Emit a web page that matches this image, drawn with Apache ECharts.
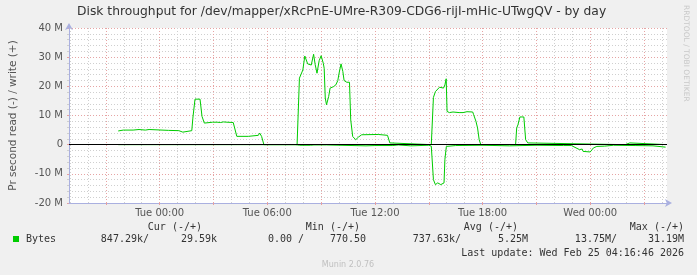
<!DOCTYPE html>
<html><head><meta charset="utf-8">
<script src="https://cdn.jsdelivr.net/npm/echarts@6/dist/echarts.min.js"></script>
<style>html,body{margin:0;padding:0;background:#f0f0f0;}#c{width:697px;height:275px;}</style>
</head><body><div id="c"></div>
<script>
const titleText = 'Disk throughput for /dev/mapper/xRcPnE-UMre-R309-CDG6-rijI-mHic-UTwgQV - by day';
const yAxisName = 'Pr second read (-) / write (+)';
const yMin = -20, yMax = 40, yStep = 10; // in M
const xLabelHours = [0, 6, 12, 18, 24];
const xLabelTexts = ['Tue 00:00', 'Tue 06:00', 'Tue 12:00', 'Tue 18:00', 'Wed 00:00'];
const xStart = -5.054, xEnd = 28.279; // hours relative to Tue 00:00
// write (+), M bytes per second
const writeHours = [-2.31,-2.03,-1.48,-1.40,-1.15,-1.10,-0.80,-0.76,-0.59,-0.55,0.50,1.07,1.09,1.29,1.35,1.79,1.85,1.97,2.25,2.36,2.49,2.60,2.95,3.05,3.20,3.40,3.55,3.75,4.10,4.20,4.30,4.94,4.95,5.50,5.57,5.68,5.81,7.66,7.79,7.90,7.98,8.09,8.17,8.25,8.45,8.58,8.67,8.77,8.89,9.00,9.12,9.17,9.23,9.30,9.42,9.50,9.69,9.82,9.93,10.00,10.11,10.21,10.28,10.43,10.58,10.65,10.76,10.93,11.08,11.17,11.26,12.18,12.26,12.70,12.83,12.92,15.14,15.26,15.37,15.47,15.60,15.82,15.90,15.97,16.02,16.15,16.35,16.69,16.80,16.91,17.13,17.45,17.50,17.63,17.72,17.81,17.90,19.84,19.90,19.97,20.08,20.30,20.40,20.52,20.62,25.94,26.03,26.21,26.27,28.20];
const writeValues = [4.7,5.0,5.0,5.2,5.2,5.0,5.0,5.2,5.2,5.0,4.9,4.8,4.3,4.3,4.8,4.8,9.1,15.6,15.6,9.7,7.4,7.7,7.7,7.9,7.7,7.6,7.8,7.7,7.6,7.6,2.85,2.85,3.2,3.2,4.0,2.85,0,0,22.8,23.2,25.6,30.4,30.8,27.7,27.3,31.0,27.4,24.5,28.8,30.5,27.9,26.2,16.0,13.7,16.5,19.4,19.9,20.5,22.0,24.5,27.7,25.1,22.0,21.4,21.4,8.5,2.8,1.7,2.6,3.1,3.4,3.5,3.2,3.2,0.6,0,0,16.2,18.2,18.8,19.7,19.4,20.5,22.6,11.4,11.0,11.2,11.0,11.4,11.0,11.3,11.2,10.3,8.0,5.7,1.7,0,0,5.7,6.8,9.5,9.5,1.7,0.6,0,0,0.6,0.6,0,0.03];
// read (-), M bytes per second
const readHours = [-2.31,7.60,7.80,8.40,8.50,8.60,9.30,9.40,11.50,11.60,12.00,13.00,13.30,14.00,15.00,15.14,15.26,15.37,15.50,15.67,15.85,15.90,15.98,16.50,18.00,19.50,21.00,22.50,22.95,23.40,23.55,23.60,24.00,24.18,24.37,24.80,25.30,26.50,27.50,28.20];
const readValues = [0,0,-0.2,-0.2,-0.5,-0.1,-0.1,-0.4,-0.4,-0.1,-0.3,-0.3,-0.1,-0.4,-0.2,-0.5,-12.0,-13.7,-13.1,-13.7,-13.1,-5.0,-0.6,-0.3,-0.2,-0.4,-0.2,-0.3,-0.3,-1.7,-1.5,-2.3,-2.5,-1.1,-0.6,-0.5,-0.2,-0.3,-0.4,-0.85];
const legendHeaders = ['Cur (-/+)', 'Min (-/+)', 'Avg (-/+)', 'Max (-/+)'];
const legendName = 'Bytes';
const legendValues = ['847.29k/', '29.59k', '0.00 /', '770.50', '737.63k/', '5.25M', '13.75M/', '31.19M'];
const lastUpdate = 'Last update: Wed Feb 25 04:16:46 2026';
const footerText = 'Munin 2.0.76';
const watermarkText = 'RRDTOOL / TOBI OETIKER';

const GREEN = '#00cc00';
const hourTicks = [];
for (let h = Math.ceil(xStart); h <= xEnd; h++) hourTicks.push(h);
const majorTicks = hourTicks.filter(h => ((h % 3) + 3) % 3 === 0);

const chart = echarts.init(document.getElementById('c'), null, {renderer: 'canvas'});
const monoFont = '"DejaVu Sans Mono", monospace';
const sansFont = '"DejaVu Sans", sans-serif';
const headerRight = [202, 360, 518, 684];
const valueRight = [149, 217, 304, 366, 461, 528, 617, 684];
const graphics = [
  {type: 'text', left: 77, top: 6, style: {text: titleText, font: '12.3px ' + sansFont, fill: '#333'}},
  {type: 'text', x: 682, y: 5, rotation: -Math.PI / 2, style: {text: watermarkText, font: '7.5px ' + sansFont, fill: '#c8c8c8', textAlign: 'left', textVerticalAlign: 'bottom'}},
  {type: 'rect', shape: {x: 13, y: 236, width: 6, height: 6}, style: {fill: GREEN}},
  {type: 'text', x: 26, y: 239.5, style: {text: legendName, font: '10px ' + monoFont, fill: '#333', textVerticalAlign: 'middle'}},
  {type: 'text', x: 684, y: 253, style: {text: lastUpdate, font: '10px ' + monoFont, fill: '#333', textAlign: 'right', textVerticalAlign: 'middle'}},
  {type: 'text', x: 348, y: 265, style: {text: footerText, font: '8px ' + sansFont, fill: '#c0c0c0', textAlign: 'center', textVerticalAlign: 'middle'}}
];
legendHeaders.forEach((t, i) => graphics.push({type: 'text', x: headerRight[i], y: 227, style: {text: t, font: '10px ' + monoFont, fill: '#333', textAlign: 'right', textVerticalAlign: 'middle'}}));
legendValues.forEach((t, i) => graphics.push({type: 'text', x: valueRight[i], y: 239.5, style: {text: t, font: '10px ' + monoFont, fill: '#333', textAlign: 'right', textVerticalAlign: 'middle'}}));

chart.setOption({
  animation: false,
  backgroundColor: '#f0f0f0',
  grid: {left: 66, right: 30, top: 28, bottom: 72, show: true, backgroundColor: '#ffffff', borderWidth: 0},
  xAxis: [
    {
      type: 'value', min: xStart, max: xEnd, position: 'bottom', z: 3,
      axisLine: {show: true, onZero: false, lineStyle: {color: '#aab0e0', width: 1}, symbol: ['none', 'arrow'], symbolSize: [6, 7], symbolOffset: [0, 5]},
      axisTick: {show: true, customValues: majorTicks, length: 2, lineStyle: {color: '#e8a0a0'}},
      axisLabel: {show: true, customValues: xLabelHours, margin: 5, fontFamily: sansFont, fontSize: 10, color: '#555',
        formatter: v => { const i = xLabelHours.indexOf(Math.round(v)); return i >= 0 ? xLabelTexts[i] : ''; }},
      splitLine: {show: true, lineStyle: {color: '#e6a4a4', type: [1, 2], width: 1}}
    },
    {
      type: 'value', min: xStart, max: xEnd, position: 'bottom', z: 1,
      axisLine: {show: false, onZero: false},
      axisTick: {show: false, customValues: hourTicks},
      axisLabel: {show: false, customValues: hourTicks},
      splitLine: {show: true, lineStyle: {color: '#cfcfcf', type: [1, 2], width: 1}}
    }
  ],
  yAxis: {
    type: 'value', min: yMin, max: yMax, interval: yStep,
    name: yAxisName, nameLocation: 'middle', nameGap: 50, nameRotate: 90,
    nameTextStyle: {fontFamily: sansFont, fontSize: 10.5, color: '#555'},
    axisLine: {show: true, onZero: false, lineStyle: {color: '#aab0e0'}, symbol: ['none', 'arrow'], symbolSize: [6, 7], symbolOffset: [0, 5]},
    axisTick: {show: true, length: 2, lineStyle: {color: '#e8a0a0'}},
    minorTick: {show: true, splitNumber: 5, length: 2, lineStyle: {color: '#cfcfcf'}},
    axisLabel: {fontFamily: sansFont, fontSize: 10, color: '#555', margin: 6,
      formatter: v => v === 0 ? '0' : v + ' M'},
    splitLine: {show: true, lineStyle: {color: '#e6a4a4', type: [1, 2]}},
    minorSplitLine: {show: true, lineStyle: {color: '#cfcfcf', type: [1, 2]}}
  },
  graphic: graphics,
  series: [
    {
      name: 'write', type: 'line', xAxisIndex: 0, showSymbol: false, silent: true, z: 5,
      lineStyle: {color: GREEN, width: 1},
      data: writeHours.map((h, i) => [h, writeValues[i]]),
      markLine: {silent: true, symbol: 'none', label: {show: false}, z: 10,
        lineStyle: {color: '#000', type: 'solid', width: 1}, data: [{yAxis: 0}]}
    },
    {
      name: 'read', type: 'line', xAxisIndex: 0, showSymbol: false, silent: true, z: 5,
      lineStyle: {color: GREEN, width: 1},
      data: readHours.map((h, i) => [h, readValues[i]])
    }
  ]
});
</script></body></html>
